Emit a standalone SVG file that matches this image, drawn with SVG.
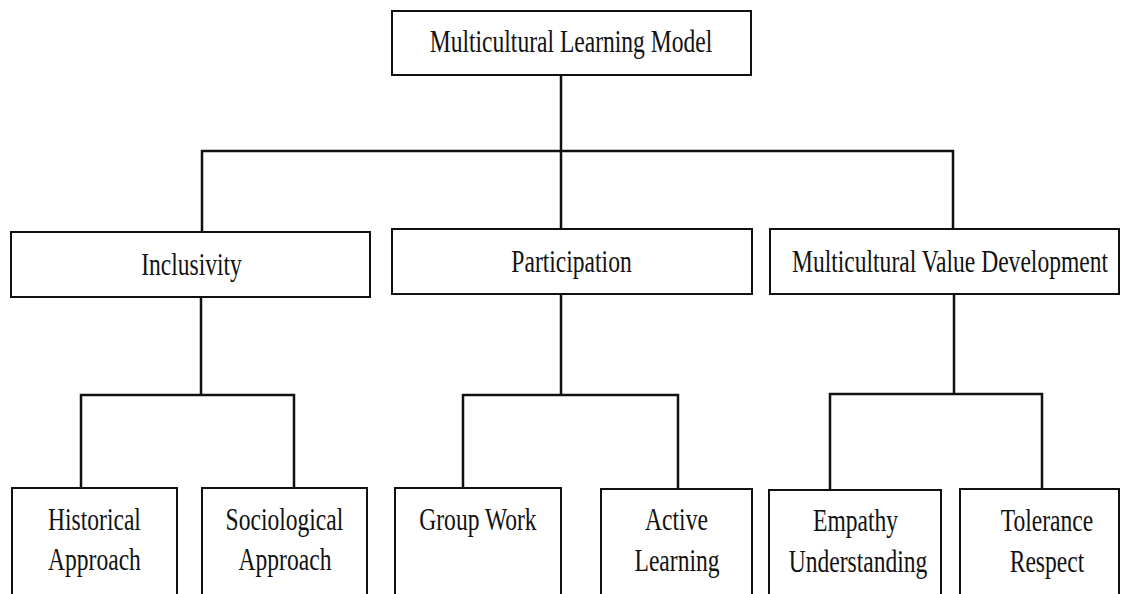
<svg xmlns="http://www.w3.org/2000/svg" width="1121" height="594" viewBox="0 0 1121 594">
<style>
.box{fill:#fff;stroke:#111;stroke-width:2}
.ln{fill:none;stroke:#111;stroke-width:2.5;stroke-linecap:square}
.t{font-family:"Liberation Serif","Times New Roman",serif;font-size:31px;fill:#111;text-anchor:middle}
</style>
<rect width="1121" height="594" fill="#fff"/>
<g id="connectors">
<path class="ln" d="M561 75V151M202 151H953M202 151V232M561 151V229M953 151V229"/>
<path class="ln" d="M201 297V395M81 395H294M81 395V488M294 395V488"/>
<path class="ln" d="M561 294V395M463 395H678M463 395V488M678 395V489"/>
<path class="ln" d="M954 294V394M830 394H1042M830 394V490M1042 394V489"/>
</g>
<g id="root"><rect class="box" x="392" y="11" width="359" height="64"/><text class="t" transform="scale(0.76 1)" x="751.3" y="52">Multicultural Learning Model</text></g>
<g id="inclusivity"><rect class="box" x="11" y="232" width="359" height="65"/><text class="t" transform="scale(0.76 1)" x="252" y="275">Inclusivity</text></g>
<g id="participation"><rect class="box" x="392" y="229" width="360" height="65"/><text class="t" transform="scale(0.76 1)" x="752" y="272">Participation</text></g>
<g id="mvd"><rect class="box" x="770" y="229" width="349" height="65"/><text class="t" transform="scale(0.76 1)" x="1250" y="272">Multicultural Value Development</text></g>
<g id="historical"><rect class="box" x="12" y="488" width="165" height="120"/><text class="t" transform="scale(0.76 1)" x="124.3" y="530">Historical</text><text class="t" transform="scale(0.76 1)" x="124.3" y="570">Approach</text></g>
<g id="sociological"><rect class="box" x="202" y="488" width="165" height="120"/><text class="t" transform="scale(0.76 1)" x="374.3" y="530">Sociological</text><text class="t" transform="scale(0.76 1)" x="375" y="570">Approach</text></g>
<g id="groupwork"><rect class="box" x="395" y="488" width="166" height="120"/><text class="t" transform="scale(0.76 1)" x="628.9" y="530">Group Work</text></g>
<g id="active"><rect class="box" x="601" y="489" width="151" height="120"/><text class="t" transform="scale(0.76 1)" x="890.1" y="530">Active</text><text class="t" transform="scale(0.76 1)" x="890.8" y="571">Learning</text></g>
<g id="empathy"><rect class="box" x="769" y="490" width="172" height="120"/><text class="t" transform="scale(0.76 1)" x="1125.7" y="531">Empathy</text><text class="t" transform="scale(0.76 1)" x="1128.9" y="572">Understanding</text></g>
<g id="tolerance"><rect class="box" x="960" y="489" width="159" height="120"/><text class="t" transform="scale(0.76 1)" x="1377.6" y="531">Tolerance</text><text class="t" transform="scale(0.76 1)" x="1377.6" y="572">Respect</text></g>
</svg>
